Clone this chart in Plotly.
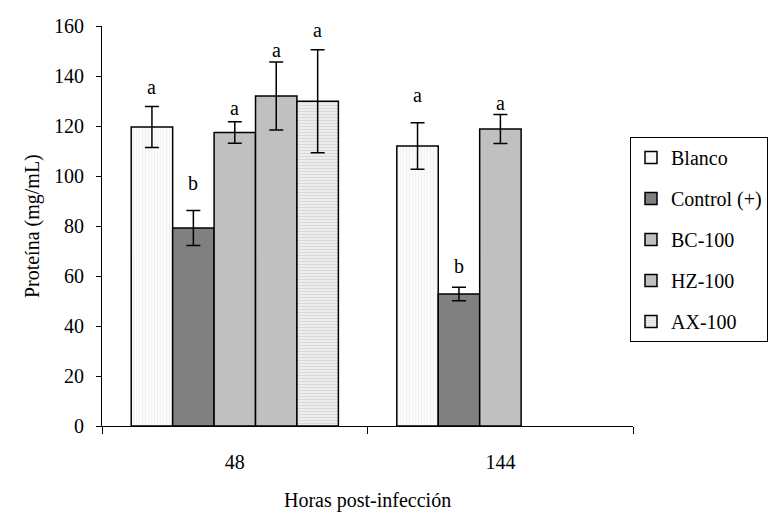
import plotly.graph_objects as go

# Protein content by treatment and hours post-infection
hours = ["48", "144"]
series = ["Blanco", "Control (+)", "BC-100", "HZ-100", "AX-100"]
means = {
    "Blanco": [119.6, 112.0],
    "Control (+)": [79.2, 52.8],
    "BC-100": [117.4, 118.8],
    "HZ-100": [132.0, None],
    "AX-100": [129.9, None],
}
errors = {
    "Blanco": [8.2, 9.3],
    "Control (+)": [7.0, 2.7],
    "BC-100": [4.3, 5.8],
    "HZ-100": [13.6, None],
    "AX-100": [20.6, None],
}
letters = {
    "Blanco": ["a", "a"],
    "Control (+)": ["b", "b"],
    "BC-100": ["a", "a"],
    "HZ-100": ["a", None],
    "AX-100": ["a", None],
}
y_ticks = [0, 20, 40, 60, 80, 100, 120, 140, 160]

FONT = "Liberation Serif, Times New Roman, serif"
FS = 20

styles = {
    "Blanco": dict(color="#FBFBFB", pattern=dict(shape="|", fgcolor="#E4E4E4", bgcolor="#FBFBFB", size=3, solidity=0.3)),
    "Control (+)": dict(color="#808080"),
    "BC-100": dict(color="#C0C0C0"),
    "HZ-100": dict(color="#C0C0C0"),
    "AX-100": dict(color="#E6E6E6", pattern=dict(shape="-", fgcolor="#C4C4C4", bgcolor="#EDEDED", size=3, solidity=0.35)),
}

# pixel lift of each letter above its error-bar cap
letter_lift = {
    "Blanco": [20, 28],
    "Control (+)": [28, 21],
    "BC-100": [14, 12],
    "HZ-100": [12, 0],
    "AX-100": [20, 0],
}

BARGAP = 0.22
W, H = 768, 515
ML, MT, MB = 102, 26, 89
PLOT_RIGHT = 634          # right end of the category axis, px
LEGEND_LEFT = 631         # left edge of the legend box, px
paper_w = W - ML
x_dom_end = (PLOT_RIGHT - ML) / paper_w

fig = go.Figure()
for name in series:
    fig.add_trace(go.Bar(
        name=name,
        x=hours,
        y=means[name],
        error_y=dict(type="data", array=errors[name], color="black", thickness=1.5, width=7),
        marker=dict(line=dict(color="black", width=1.5), **styles[name]),
        legendgroup=name,
    ))

# significance letters above each error bar
slot = (1 - BARGAP) / len(series)
annotations = []
for k, name in enumerate(series):
    for j, h in enumerate(hours):
        lab = letters[name][j]
        if lab is None:
            continue
        top = means[name][j] + errors[name][j]
        annotations.append(dict(
            x=j + (k - (len(series) - 1) / 2) * slot, y=top, xref="x", yref="y",
            text=lab, showarrow=False, yanchor="middle", yshift=letter_lift[name][j],
            font=dict(family=FONT, size=FS, color="black"),
        ))

annotations.append(dict(
    x=-70 / paper_w, y=0.5, xref="paper", yref="paper", text="Proteína (mg/mL)",
    textangle=-90, showarrow=False, xanchor="center", yanchor="middle",
    font=dict(family=FONT, size=FS, color="black"),
))
annotations.append(dict(
    x=x_dom_end / 2, y=-0.185, xref="paper", yref="paper", text="Horas post-infección",
    showarrow=False, yanchor="middle", font=dict(family=FONT, size=FS, color="black"),
))

fig.update_layout(
    width=W, height=H,
    margin=dict(l=ML, r=0, t=MT, b=MB),
    paper_bgcolor="white", plot_bgcolor="white",
    barmode="group", bargap=BARGAP, bargroupgap=0,
    font=dict(family=FONT, size=FS, color="black"),
    showlegend=True,
    legend=dict(
        x=(LEGEND_LEFT - ML) / paper_w, y=0.7225, xanchor="left", yanchor="top",
        bordercolor="black", borderwidth=1, bgcolor="white",
        traceorder="grouped", tracegroupgap=12,
        font=dict(family=FONT, size=FS, color="black"),
        itemwidth=30,
    ),
    annotations=annotations,
)
fig.update_xaxes(
    type="category", domain=[0, x_dom_end], showline=True, linecolor="black", linewidth=1,
    ticks="outside", tickson="boundaries", ticklen=7, tickcolor="black",
    showgrid=False, ticklabelstandoff=18,
)
fig.update_yaxes(
    range=[0, 160], tickvals=y_ticks, showline=True, linecolor="black", linewidth=1,
    ticks="outside", ticklen=5, tickcolor="black", showgrid=False, zeroline=False,
    ticklabelstandoff=8,
)

fig.write_html("out.html")
